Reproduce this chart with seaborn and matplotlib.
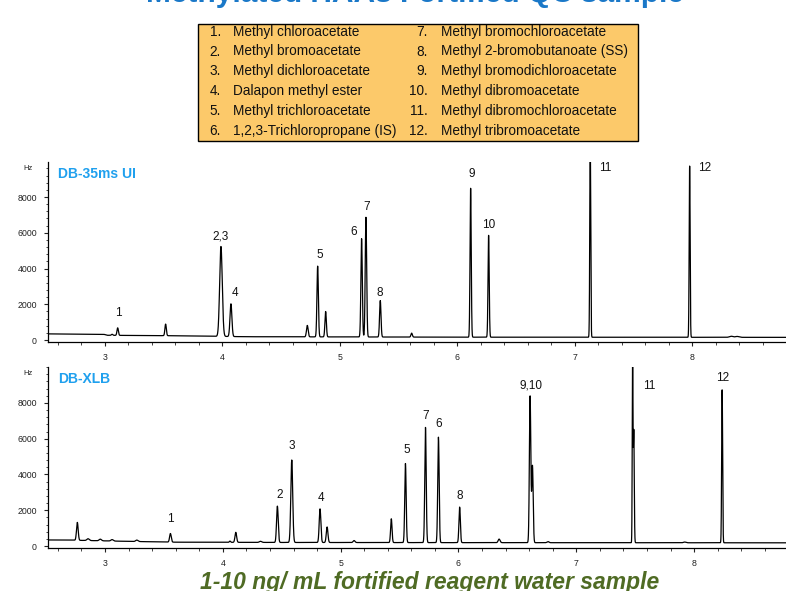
import numpy as np
import pandas as pd
import matplotlib
matplotlib.use("Agg")
import matplotlib.pyplot as plt
import seaborn as sns
from matplotlib.patches import Rectangle
from matplotlib.ticker import MultipleLocator

# compound list (legend box)
compound_nums = ["1.", "2.", "3.", "4.", "5.", "6.", "7.", "8.", "9.", "10.", "11.", "12."]
compound_names = ["Methyl chloroacetate", "Methyl bromoacetate", "Methyl dichloroacetate",
                  "Dalapon methyl ester", "Methyl trichloroacetate", "1,2,3-Trichloropropane (IS)",
                  "Methyl bromochloroacetate", "Methyl 2-bromobutanoate (SS)",
                  "Methyl bromodichloroacetate", "Methyl dibromoacetate",
                  "Methyl dibromochloroacetate", "Methyl tribromoacetate"]

# DB-35ms UI chromatogram: peak retention time (min), net height (Hz), sigma (min)
top_rt = [3.06, 3.108, 3.516, 3.987, 4.072, 4.722, 4.810, 4.878, 5.184, 5.221, 5.343, 5.61, 6.112, 6.265, 7.130, 7.976, 8.33, 8.38]
top_height = [60, 420, 650, 5030, 1830, 640, 3960, 1420, 5500, 6700, 2040, 220, 8330, 5700, 11000, 9580, 60, 50]
top_sigma = [0.006, 0.006, 0.006, 0.011, 0.008, 0.007, 0.006, 0.006, 0.006, 0.006, 0.006, 0.006, 0.005, 0.005, 0.004, 0.004, 0.015, 0.015]
top_base_t = [2.5, 2.99, 3.02, 3.6, 4.2, 6.0, 8.8]
top_base_v = [345, 320, 265, 240, 185, 160, 150]
top_labels = ["1", "2,3", "4", "5", "6", "7", "8", "9", "10", "11", "12"]
top_label_t = [3.113, 3.987, 4.106, 4.824, 5.113, 5.224, 5.340, 6.120, 6.266, 7.255, 8.106]
top_label_v = [1490, 5818, 2648, 4755, 6025, 7458, 2648, 9267, 6433, 9640, 9640]

# DB-XLB chromatogram
bot_rt = [2.765, 2.856, 2.96, 3.06, 3.27, 3.555, 4.06, 4.110, 4.32, 4.463, 4.585, 4.825, 4.885,
          5.114, 5.430, 5.550, 5.720, 5.830, 6.010, 6.345, 6.608, 6.628, 6.76, 7.478, 7.488, 7.92, 8.238]
bot_height = [1000, 100, 90, 80, 80, 480, 70, 560, 60, 2030, 4610, 1880, 870,
              110, 1330, 4420, 6440, 5900, 1990, 200, 8200, 4300, 60, 11000, 6300, 40, 8580]
bot_sigma = [0.007, 0.01, 0.01, 0.01, 0.01, 0.007, 0.005, 0.007, 0.01, 0.007, 0.008, 0.007, 0.007,
             0.008, 0.006, 0.006, 0.006, 0.006, 0.006, 0.008, 0.006, 0.006, 0.008, 0.003, 0.004, 0.01, 0.004]
bot_base_t = [2.5, 2.7, 3.2, 3.6, 4.5, 6.0, 8.8]
bot_base_v = [340, 330, 260, 215, 200, 190, 180]
bot_labels = ["1", "2", "3", "4", "5", "7", "6", "8", "9,10", "11", "12"]
bot_label_t = [3.552, 4.480, 4.585, 4.831, 5.561, 5.722, 5.835, 6.011, 6.614, 7.621, 8.240]
bot_label_v = [1510, 2853, 5611, 2668, 5370, 7272, 6808, 2814, 8967, 8967, 9381]

sns.set_theme(style="ticks")
plt.rcParams['font.family'] = ['Liberation Sans', 'DejaVu Sans']


def trace(rt, height, sigma, base_t, base_v):
    t = np.linspace(2.45, 8.85, 9000)
    y = np.interp(t, base_t, base_v)
    for r, h, s in zip(rt, height, sigma):
        y = y + h * np.exp(-0.5 * ((t - r) / s) ** 2)
    return pd.DataFrame({"time": t, "signal": y})


fig = plt.figure(figsize=(7.86, 5.91), dpi=100)
W, H = 786, 591

# title (top of it runs off the slide, as in the original)
fig.text(415 / W, 1 - 2.5 / H, "Methylated HAAs Fortified QC sample", ha="center", va="baseline",
         fontsize=21.5, fontweight="bold", color="#1a78c8")

# legend box
fig.patches.append(Rectangle((198 / W, 1 - 141 / H), 440 / W, 117 / H, transform=fig.transFigure,
                             facecolor="#fcc96a", edgecolor="black", linewidth=1.0, zorder=0))
for i in range(12):
    col, row = divmod(i, 6)
    ypx = 31.7 + row * 19.8
    xnum = 221 if col == 0 else 428
    xtxt = 233 if col == 0 else 441
    fig.text(xnum / W, 1 - ypx / H, compound_nums[i], ha="right", va="center", fontsize=9.8, color="#111111")
    fig.text(xtxt / W, 1 - ypx / H, compound_names[i], ha="left", va="center", fontsize=9.8, color="#111111")

panels = [
    (162, 342, (-110, 9960), (2.515, 8.796), trace(top_rt, top_height, top_sigma, top_base_t, top_base_v),
     top_labels, top_label_t, top_label_v, "DB-35ms UI"),
    (367, 548, (-110, 10010), (2.516, 8.78), trace(bot_rt, bot_height, bot_sigma, bot_base_t, bot_base_v),
     bot_labels, bot_label_t, bot_label_v, "DB-XLB"),
]

for top_px, bot_px, ylim, xlim, df, labs, lt, lv, name in panels:
    ax = fig.add_axes([48 / W, 1 - bot_px / H, (W - 48) / W, (bot_px - top_px) / H])
    sns.lineplot(data=df, x="time", y="signal", ax=ax, color="black", linewidth=0.9, estimator=None)
    ax.set_xlim(*xlim)
    ax.set_ylim(*ylim)
    ax.set_xlabel("")
    ax.set_ylabel("")
    ax.xaxis.set_major_locator(MultipleLocator(1))
    ax.xaxis.set_minor_locator(MultipleLocator(0.2))
    ax.yaxis.set_major_locator(MultipleLocator(2000))
    ax.yaxis.set_minor_locator(MultipleLocator(400))
    ax.tick_params(axis="both", which="major", length=3, width=0.8, labelsize=6.3, colors="#222222", pad=5)
    ax.tick_params(axis="both", which="minor", length=1.8, width=0.6)
    ax.set_yticks([0, 2000, 4000, 6000, 8000])
    sns.despine(ax=ax)
    for s in ("left", "bottom"):
        ax.spines[s].set_linewidth(0.9)
        ax.spines[s].set_color("black")
    ax.set_facecolor("none")
    ax.text(-15 / (W - 48), 1.0 - 3 / (bot_px - top_px), "Hz", transform=ax.transAxes,
            ha="right", va="top", fontsize=5.5, color="#222222")
    ax.text(0.0136, 0.935, name, transform=ax.transAxes, ha="left", va="center",
            fontsize=10, fontweight="bold", color="#1fa0ee")
    for txt, t, v in zip(labs, lt, lv):
        ax.text(t, v, txt, ha="center", va="center", fontsize=8.5, color="#111111")

fig.text(430 / W, 1 - 582 / H, "1-10 ng/ mL fortified reagent water sample", ha="center", va="center",
         fontsize=16.5, fontweight="bold", fontstyle="italic", color="#4f6b24")

fig.savefig("out.png", dpi=100)
